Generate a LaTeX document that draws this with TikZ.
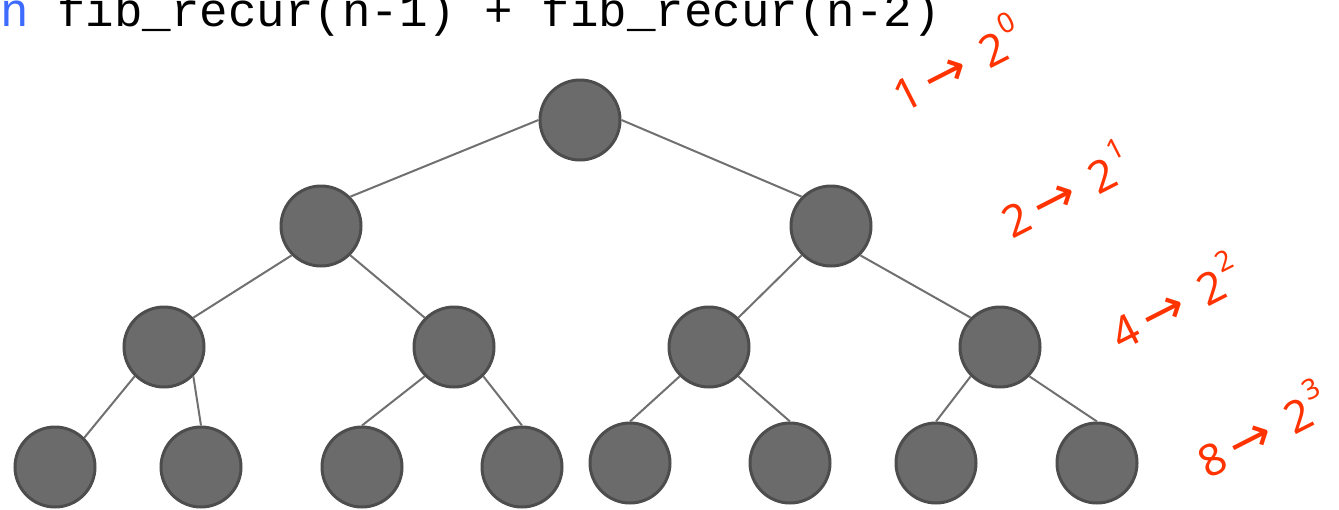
\documentclass[tikz,border=0pt]{standalone}
\usepackage{fontspec}
\setmainfont{Noto Sans}
\newfontfamily\codefont{Liberation Mono}
\newfontfamily\arrfont{DejaVu Sans}
\definecolor{nodefill}{HTML}{6B6B6B}
\definecolor{nodeborder}{HTML}{4D4D4D}
\definecolor{edgegray}{HTML}{707070}
\definecolor{labred}{HTML}{FF3300}
\definecolor{codeblue}{HTML}{3D6BFF}
\newcommand{\labarr}{\hspace{8pt}{\arrfont\fontsize{52}{52}\selectfont →}\hspace{20pt}}
\newcommand{\labsup}[1]{\hspace{2pt}\raisebox{0.55em}{\fontsize{28}{28}\selectfont #1}}
\begin{document}
\begin{tikzpicture}[x=1pt,y=-1pt,
  tn/.style={circle, minimum size=80pt, inner sep=0pt, fill=nodefill, draw=nodeborder, line width=3pt},
  edge/.style={draw=edgegray, line width=2pt},
  lab/.style={text=labred, rotate=27, inner sep=0pt, font=\fontsize{44}{48}\selectfont}]
\useasboundingbox (0,0) rectangle (1339,509);
\node[anchor=base west, inner sep=0pt, font=\codefont\fontsize{47.5}{50}\selectfont] (code) at (0,26) {\textcolor{codeblue}{n} fib\_recur(n-1) + fib\_recur(n-2)};
% tree nodes
\node[tn] (r) at (580,120) {};
\node[tn] (a) at (321,226) {};
\node[tn] (b) at (831,226) {};
\node[tn] (aa) at (164,347) {};
\node[tn] (ab) at (454,347) {};
\node[tn] (ba) at (709,347) {};
\node[tn] (bb) at (1000,347) {};
\node[tn] (aaa) at (55,467) {};
\node[tn] (aab) at (201,467) {};
\node[tn] (aba) at (362,467) {};
\node[tn] (abb) at (522,467) {};
\node[tn] (baa) at (630,463) {};
\node[tn] (bab) at (790,463) {};
\node[tn] (bba) at (936,463) {};
\node[tn] (bbb) at (1097,463) {};
% edges
\draw[edge] (r.west) -- (a.45);
\draw[edge] (r.east) -- (b.135);
\draw[edge] (a.-135) -- (aa.45);
\draw[edge] (a.-45) -- (ab.135);
\draw[edge] (b.-135) -- (ba.45);
\draw[edge] (b.-45) -- (bb.135);
\draw[edge] (aa.-135) -- (aaa.45);
\draw[edge] (aa.-45) -- (aab.north);
\draw[edge] (ab.-135) -- (aba.north);
\draw[edge] (ab.-45) -- (abb.north);
\draw[edge] (ba.-135) -- (baa.north);
\draw[edge] (ba.-45) -- (bab.north);
\draw[edge] (bb.-135) -- (bba.north);
\draw[edge] (bb.-45) -- (bbb.north);
% labels
\node[lab] (l1) at (956,62) {1\labarr 2\labsup{0}};
\node[lab] (l2) at (1065,188) {2\labarr 2\labsup{1}};
\node[lab] (l3) at (1174,300) {4\labarr 2\labsup{2}};
\node[lab] (l4) at (1261,428) {8\labarr 2\labsup{3}};
\end{tikzpicture}
\end{document}
